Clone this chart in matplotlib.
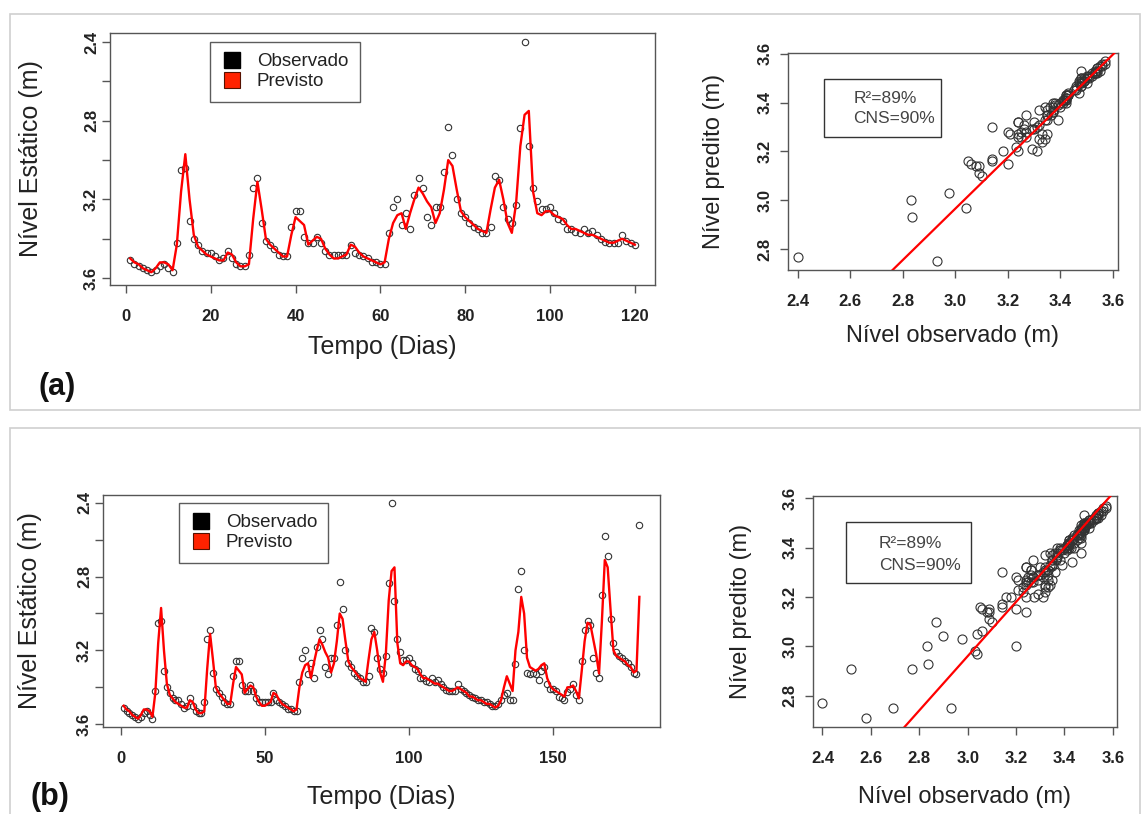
import matplotlib
matplotlib.use("Agg")
import matplotlib.pyplot as plt
from matplotlib.patches import Rectangle
from matplotlib.lines import Line2D
import numpy as np

plt.rcParams['font.family'] = ['Liberation Sans', 'DejaVu Sans']

# Static level, days 1-120 (panel a, also first part of panel b)
obs_a = [3.51, 3.53, 3.54, 3.55, 3.56, 3.57, 3.56, 3.54, 3.53, 3.55,
         3.57, 3.42, 3.05, 3.04, 3.31, 3.40, 3.43, 3.46, 3.47, 3.47,
         3.49, 3.51, 3.50, 3.46, 3.50, 3.53, 3.54, 3.54, 3.48, 3.14,
         3.09, 3.32, 3.41, 3.43, 3.45, 3.48, 3.49, 3.49, 3.34, 3.26,
         3.26, 3.39, 3.42, 3.42, 3.39, 3.42, 3.46, 3.48, 3.48, 3.48,
         3.48, 3.48, 3.43, 3.47, 3.48, 3.49, 3.50, 3.52, 3.52, 3.53,
         3.53, 3.37, 3.24, 3.20, 3.33, 3.27, 3.35, 3.18, 3.09, 3.14,
         3.29, 3.33, 3.24, 3.24, 3.06, 2.83, 2.975, 3.20, 3.27, 3.29,
         3.32, 3.34, 3.35, 3.37, 3.37, 3.34, 3.08, 3.10, 3.24, 3.30,
         3.32, 3.23, 2.835, 2.40, 2.93, 3.14, 3.21, 3.25, 3.25, 3.24,
         3.27, 3.30, 3.31, 3.35, 3.35, 3.365, 3.37, 3.35, 3.37, 3.36,
         3.38, 3.40, 3.415, 3.42, 3.42, 3.42, 3.38, 3.41, 3.42, 3.43]
pred_a = [3.50, 3.52, 3.53, 3.55, 3.56, 3.57, 3.55, 3.52, 3.52, 3.53,
          3.56, 3.43, 3.16, 2.97, 3.20, 3.38, 3.44, 3.46, 3.48, 3.49,
          3.50, 3.51, 3.51, 3.47, 3.48, 3.52, 3.54, 3.54, 3.53, 3.30,
          3.11, 3.25, 3.40, 3.43, 3.45, 3.47, 3.49, 3.49, 3.38, 3.29,
          3.31, 3.33, 3.43, 3.41, 3.39, 3.40, 3.45, 3.48, 3.50, 3.50,
          3.49, 3.48, 3.43, 3.44, 3.47, 3.49, 3.50, 3.51, 3.52, 3.53,
          3.52, 3.40, 3.32, 3.28, 3.27, 3.35, 3.27, 3.20, 3.14, 3.17,
          3.21, 3.24, 3.32, 3.27, 3.15, 3.00, 3.03, 3.15, 3.26, 3.29,
          3.31, 3.33, 3.35, 3.36, 3.37, 3.25, 3.14, 3.10, 3.20, 3.32,
          3.37, 3.22, 2.93, 2.77, 2.75, 3.16, 3.27, 3.28, 3.26, 3.26,
          3.28, 3.29, 3.30, 3.33, 3.35, 3.35, 3.36, 3.37, 3.38, 3.38,
          3.39, 3.40, 3.41, 3.42, 3.42, 3.41, 3.40, 3.41, 3.42, 3.43]

# Days 121-180 (panel b continuation)
obs_ext = [3.44, 3.45, 3.46, 3.47, 3.47, 3.48, 3.48, 3.49, 3.50, 3.50,
           3.49, 3.47, 3.44, 3.43, 3.47, 3.47, 3.275, 2.87, 2.77, 3.20,
           3.32, 3.33, 3.32, 3.33, 3.36, 3.31, 3.29, 3.38, 3.41, 3.41,
           3.42, 3.45, 3.46, 3.47, 3.425, 3.41, 3.38, 3.44, 3.47, 3.26,
           3.09, 3.04, 3.06, 3.24, 3.32, 3.35, 2.90, 2.58, 2.69, 3.03,
           3.16, 3.21, 3.23, 3.24, 3.26, 3.27, 3.29, 3.32, 3.33, 2.52]
pred_ext = [3.45, 3.45, 3.46, 3.47, 3.47, 3.48, 3.49, 3.49, 3.50, 3.51,
            3.50, 3.47, 3.40, 3.34, 3.38, 3.42, 3.20, 3.10, 2.91, 3.00,
            3.24, 3.29, 3.30, 3.31, 3.30, 3.28, 3.27, 3.35, 3.39, 3.41,
            3.42, 3.43, 3.44, 3.45, 3.40, 3.40, 3.39, 3.42, 3.46, 3.31,
            3.15, 3.05, 3.06, 3.14, 3.22, 3.325, 3.04, 2.71, 2.75, 2.98,
            3.20, 3.23, 3.24, 3.25, 3.26, 3.28, 3.29, 3.32, 3.31, 2.91]

# fitted line (intercept, slope)
fit_a = (-0.19, 1.052)
fit_b = (-0.34, 1.10)
stats_labels = ['R\u00b2=89%', 'CNS=90%']

obs_b = obs_a + obs_ext
pred_b = pred_a + pred_ext

TXT = '#222222'
BOX = '#555555'


def style_axes(ax, ypad=3):
    for s in ax.spines.values():
        s.set_color(BOX)
        s.set_linewidth(1.0)
    ax.tick_params(direction='out', length=6, width=1, color=BOX,
                   labelsize=12, labelcolor=TXT)
    ax.tick_params(axis='x', pad=11)
    ax.tick_params(axis='y', pad=ypad)
    for lab in ax.get_xticklabels() + ax.get_yticklabels():
        lab.set_fontweight('bold')


def time_panel(ax, obs, pred, xticks, ylim, leg_anchor):
    days = np.arange(1, len(obs) + 1)
    ax.plot(days, obs, linestyle='none', marker='o', ms=4.6, mfc='none',
            mec='#333333', mew=0.8, zorder=2)
    ax.plot(days, pred, color='red', lw=1.7, zorder=3)
    n = len(obs)
    ext = 0.04 * (n - 1)
    ax.set_xlim(1 - ext, n + ext)
    ax.set_ylim(*ylim)
    ax.set_xticks(xticks)
    yt = [2.4, 2.6, 2.8, 3.0, 3.2, 3.4, 3.6]
    ax.set_yticks(yt)
    ax.set_yticklabels(['2.4', '', '2.8', '', '3.2', '', '3.6'],
                       rotation=90, va='center')
    style_axes(ax, ypad=2)
    handles = [Line2D([], [], linestyle='none', marker='s', ms=11,
                      mfc='black', mec='black'),
               Line2D([], [], linestyle='none', marker='s', ms=11,
                      mfc='#ff2200', mec='#551100', mew=0.8)]
    leg = ax.legend(handles, ['Observado', 'Previsto'], loc='upper left',
                    bbox_to_anchor=leg_anchor, frameon=True, fancybox=False,
                    fontsize=13.5, handlelength=1.1, handletextpad=0.8,
                    borderpad=0.6, labelspacing=0.15, borderaxespad=0,
                    labelcolor=TXT)
    leg.get_frame().set_edgecolor('#333333')
    leg.get_frame().set_linewidth(1.0)


def scatter_panel(ax, obs, pred, fit, xlim, ylim, box, txt_xy):
    ax.plot(obs, pred, linestyle='none', marker='o', ms=6.5, mfc='none',
            mec='#333333', mew=0.8, zorder=2)
    ax.axline((0, fit[0]), slope=fit[1], color='red', lw=1.6, zorder=3)
    ax.set_xlim(*xlim)
    ax.set_ylim(*ylim)
    ax.set_xticks([2.4, 2.6, 2.8, 3.0, 3.2, 3.4, 3.6])
    ax.set_yticks([2.8, 3.0, 3.2, 3.4, 3.6])
    ax.set_yticklabels(['2.8', '3.0', '3.2', '3.4', '3.6'],
                       rotation=90, va='center')
    style_axes(ax, ypad=5)
    ax.add_patch(Rectangle((box[0], box[1]), box[2] - box[0], box[3] - box[1],
                           transform=ax.transAxes, fill=False,
                           edgecolor='#333333', lw=1.0, zorder=4))
    ax.text(txt_xy[0], txt_xy[1], stats_labels[0], transform=ax.transAxes,
            fontsize=12.5, color='#444444', va='center', ha='left')
    ax.text(txt_xy[0], txt_xy[2], stats_labels[1], transform=ax.transAxes,
            fontsize=12.5, color='#444444', va='center', ha='left')


fig = plt.figure(figsize=(11.42, 8.14), dpi=100)
W, H = 1142.0, 814.0


def add_ax(x0, y0, x1, y1):
    return fig.add_axes([x0 / W, 1 - y1 / H, (x1 - x0) / W, (y1 - y0) / H])


# panel frames
fig.patches.append(Rectangle((10 / W, 1 - 410 / H), 1130 / W, 396 / H,
                             transform=fig.transFigure, fill=False,
                             edgecolor='#cfcfcf', lw=1.2))
fig.patches.append(Rectangle((10 / W, -0.02), 1130 / W, 1 - 428 / H + 0.02,
                             transform=fig.transFigure, fill=False,
                             edgecolor='#cfcfcf', lw=1.2))

# (a) time series
ax1 = add_ax(110, 33, 655, 285)
time_panel(ax1, obs_a, pred_a, [0, 20, 40, 60, 80, 100, 120], (3.635, 2.354),
           (0.1835, 0.964))
ax1.set_xlabel('Tempo (Dias)', fontsize=18, color=TXT)
ax1.set_ylabel('N\u00edvel Est\u00e1tico (m)', fontsize=18, color=TXT)
ax1.xaxis.set_label_coords(0.5, -0.2)
ax1.yaxis.set_label_coords(-0.123, 0.5)

# (a) scatter
ax2 = add_ax(788, 53, 1118, 270)
scatter_panel(ax2, obs_a, pred_a, fit_a, (2.3635, 3.619), (2.715, 3.603),
              (0.110, 0.614, 0.4645, 0.881), (0.198, 0.79, 0.698))
ax2.set_xlabel('N\u00edvel observado (m)', fontsize=17, color=TXT)
ax2.set_ylabel('N\u00edvel predito (m)', fontsize=17, color=TXT)
ax2.xaxis.set_label_coords(0.5, -0.255)
ax2.yaxis.set_label_coords(-0.19, 0.5)

# (b) time series
ax3 = add_ax(103, 495, 660, 727)
time_panel(ax3, obs_b, pred_b, [0, 50, 100, 150], (3.615, 2.358),
           (0.1364, 0.9655))
ax3.set_xlabel('Tempo (Dias)', fontsize=18, color=TXT)
ax3.set_ylabel('N\u00edvel Est\u00e1tico (m)', fontsize=18, color=TXT)
ax3.xaxis.set_label_coords(0.5, -0.25)
ax3.yaxis.set_label_coords(-0.11, 0.5)

# (b) scatter
ax4 = add_ax(813, 496, 1117, 727)
scatter_panel(ax4, obs_b, pred_b, fit_b, (2.361, 3.617), (2.673, 3.609),
              (0.110, 0.623, 0.52, 0.887), (0.2166, 0.795, 0.70))
ax4.set_xlabel('N\u00edvel observado (m)', fontsize=17, color=TXT)
ax4.set_ylabel('N\u00edvel predito (m)', fontsize=17, color=TXT)
ax4.xaxis.set_label_coords(0.5, -0.255)
ax4.yaxis.set_label_coords(-0.2, 0.5)

fig.text(57 / W, 1 - 387 / H, '(a)', fontsize=22, fontweight='bold',
         ha='center', va='center', color='#111111')
fig.text(50 / W, 1 - 797 / H, '(b)', fontsize=22, fontweight='bold',
         ha='center', va='center', color='#111111')

fig.savefig('out.png', dpi=100)
